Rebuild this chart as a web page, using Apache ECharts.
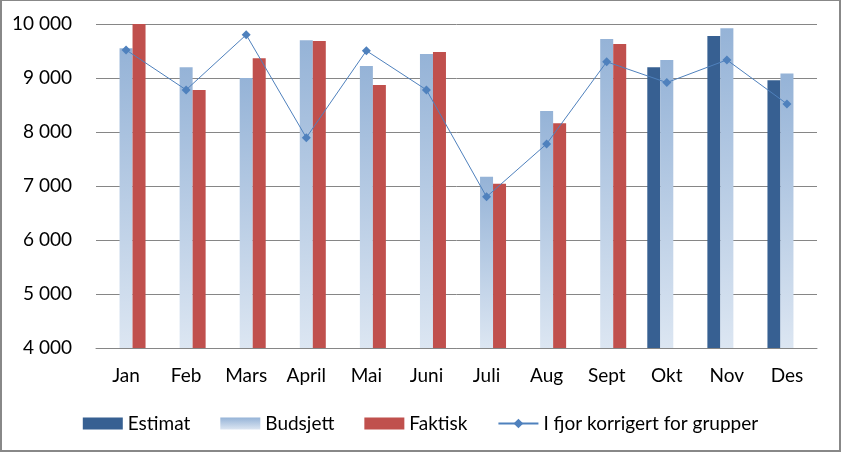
<!DOCTYPE html>
<html>
<head>
<meta charset="utf-8">
<script src="https://cdn.jsdelivr.net/npm/echarts@6/dist/echarts.min.js"></script>
<style>
html,body{margin:0;padding:0;background:#fff;}
#frame{position:absolute;left:0;top:0;width:841px;height:452px;box-sizing:border-box;border-style:solid;border-color:#888;border-width:1px 2px 2px 2px;}
#chart{position:absolute;left:0;top:0;width:841px;height:452px;}
</style>
</head>
<body>
<div id="chart"></div>
<div id="frame"></div>
<script>
var categories = ['Jan','Feb','Mars','April','Mai','Juni','Juli','Aug','Sept','Okt','Nov','Des'];
var estimat  = [0,0,0,0,0,0,0,0,0,9200,9780,8960];
var budsjett = [9550,9200,9000,9700,9220,9445,7170,8390,9720,9335,9920,9085];
var faktisk  = [10000,8780,9365,9685,8870,9480,7040,8160,9630,0,0,0];
var iFjor    = [9520,8780,9800,7895,9505,8780,6800,7780,9300,8915,9335,8520];
var yTicks = {min:4000, max:10000, interval:1000};

var FONT = 'Lato, "Open Sans", sans-serif';
function fmt(v){ return String(v).replace(/\B(?=(\d{3})+(?!\d))/g, ' '); }

var chart = echarts.init(document.getElementById('chart'), null, {renderer:'canvas'});
var budGrad = new echarts.graphic.LinearGradient(0,0,0,1,[
  {offset:0, color:'#95B3D7'},
  {offset:1, color:'#DCE6F2'}
]);
chart.setOption({
  animation:false,
  backgroundColor:'#fff',
  grid:{left:96, right:24, top:24, bottom:104, containLabel:false},
  legend:{
    top:409, left:'center',
    itemWidth:40, itemHeight:12, itemGap:30,
    textStyle:{fontFamily:FONT, fontSize:19, color:'#000'},
    data:[
      {name:'Estimat', icon:'rect'},
      {name:'Budsjett', icon:'rect'},
      {name:'Faktisk', icon:'rect'},
      {name:'I fjor korrigert for grupper'}
    ]
  },
  xAxis:{
    type:'category', data:categories,
    axisLine:{show:true, lineStyle:{color:'#868686', width:1}},
    axisTick:{show:false},
    axisLabel:{fontFamily:FONT, fontSize:19, color:'#000', margin:18}
  },
  yAxis:{
    type:'value', min:yTicks.min, max:yTicks.max, interval:yTicks.interval,
    axisLine:{show:false}, axisTick:{show:false},
    splitLine:{lineStyle:{color:'#868686', width:1}},
    axisLabel:{fontFamily:FONT, fontSize:19, color:'#000', margin:24, formatter:fmt}
  },
  series:[
    {name:'Estimat', type:'bar', data:estimat, barWidth:13, barGap:'0%',
     itemStyle:{color:'#376092'}},
    {name:'Budsjett', type:'bar', data:budsjett, barWidth:13, barGap:'0%',
     itemStyle:{color:budGrad}},
    {name:'Faktisk', type:'bar', data:faktisk, barWidth:13, barGap:'0%',
     itemStyle:{color:'#C0504D'}},
    {name:'I fjor korrigert for grupper', type:'line', data:iFjor,
     symbol:'diamond', symbolSize:9,
     lineStyle:{color:'#4F81BD', width:1},
     itemStyle:{color:'#4F81BD'}}
  ]
});
</script>
</body>
</html>
